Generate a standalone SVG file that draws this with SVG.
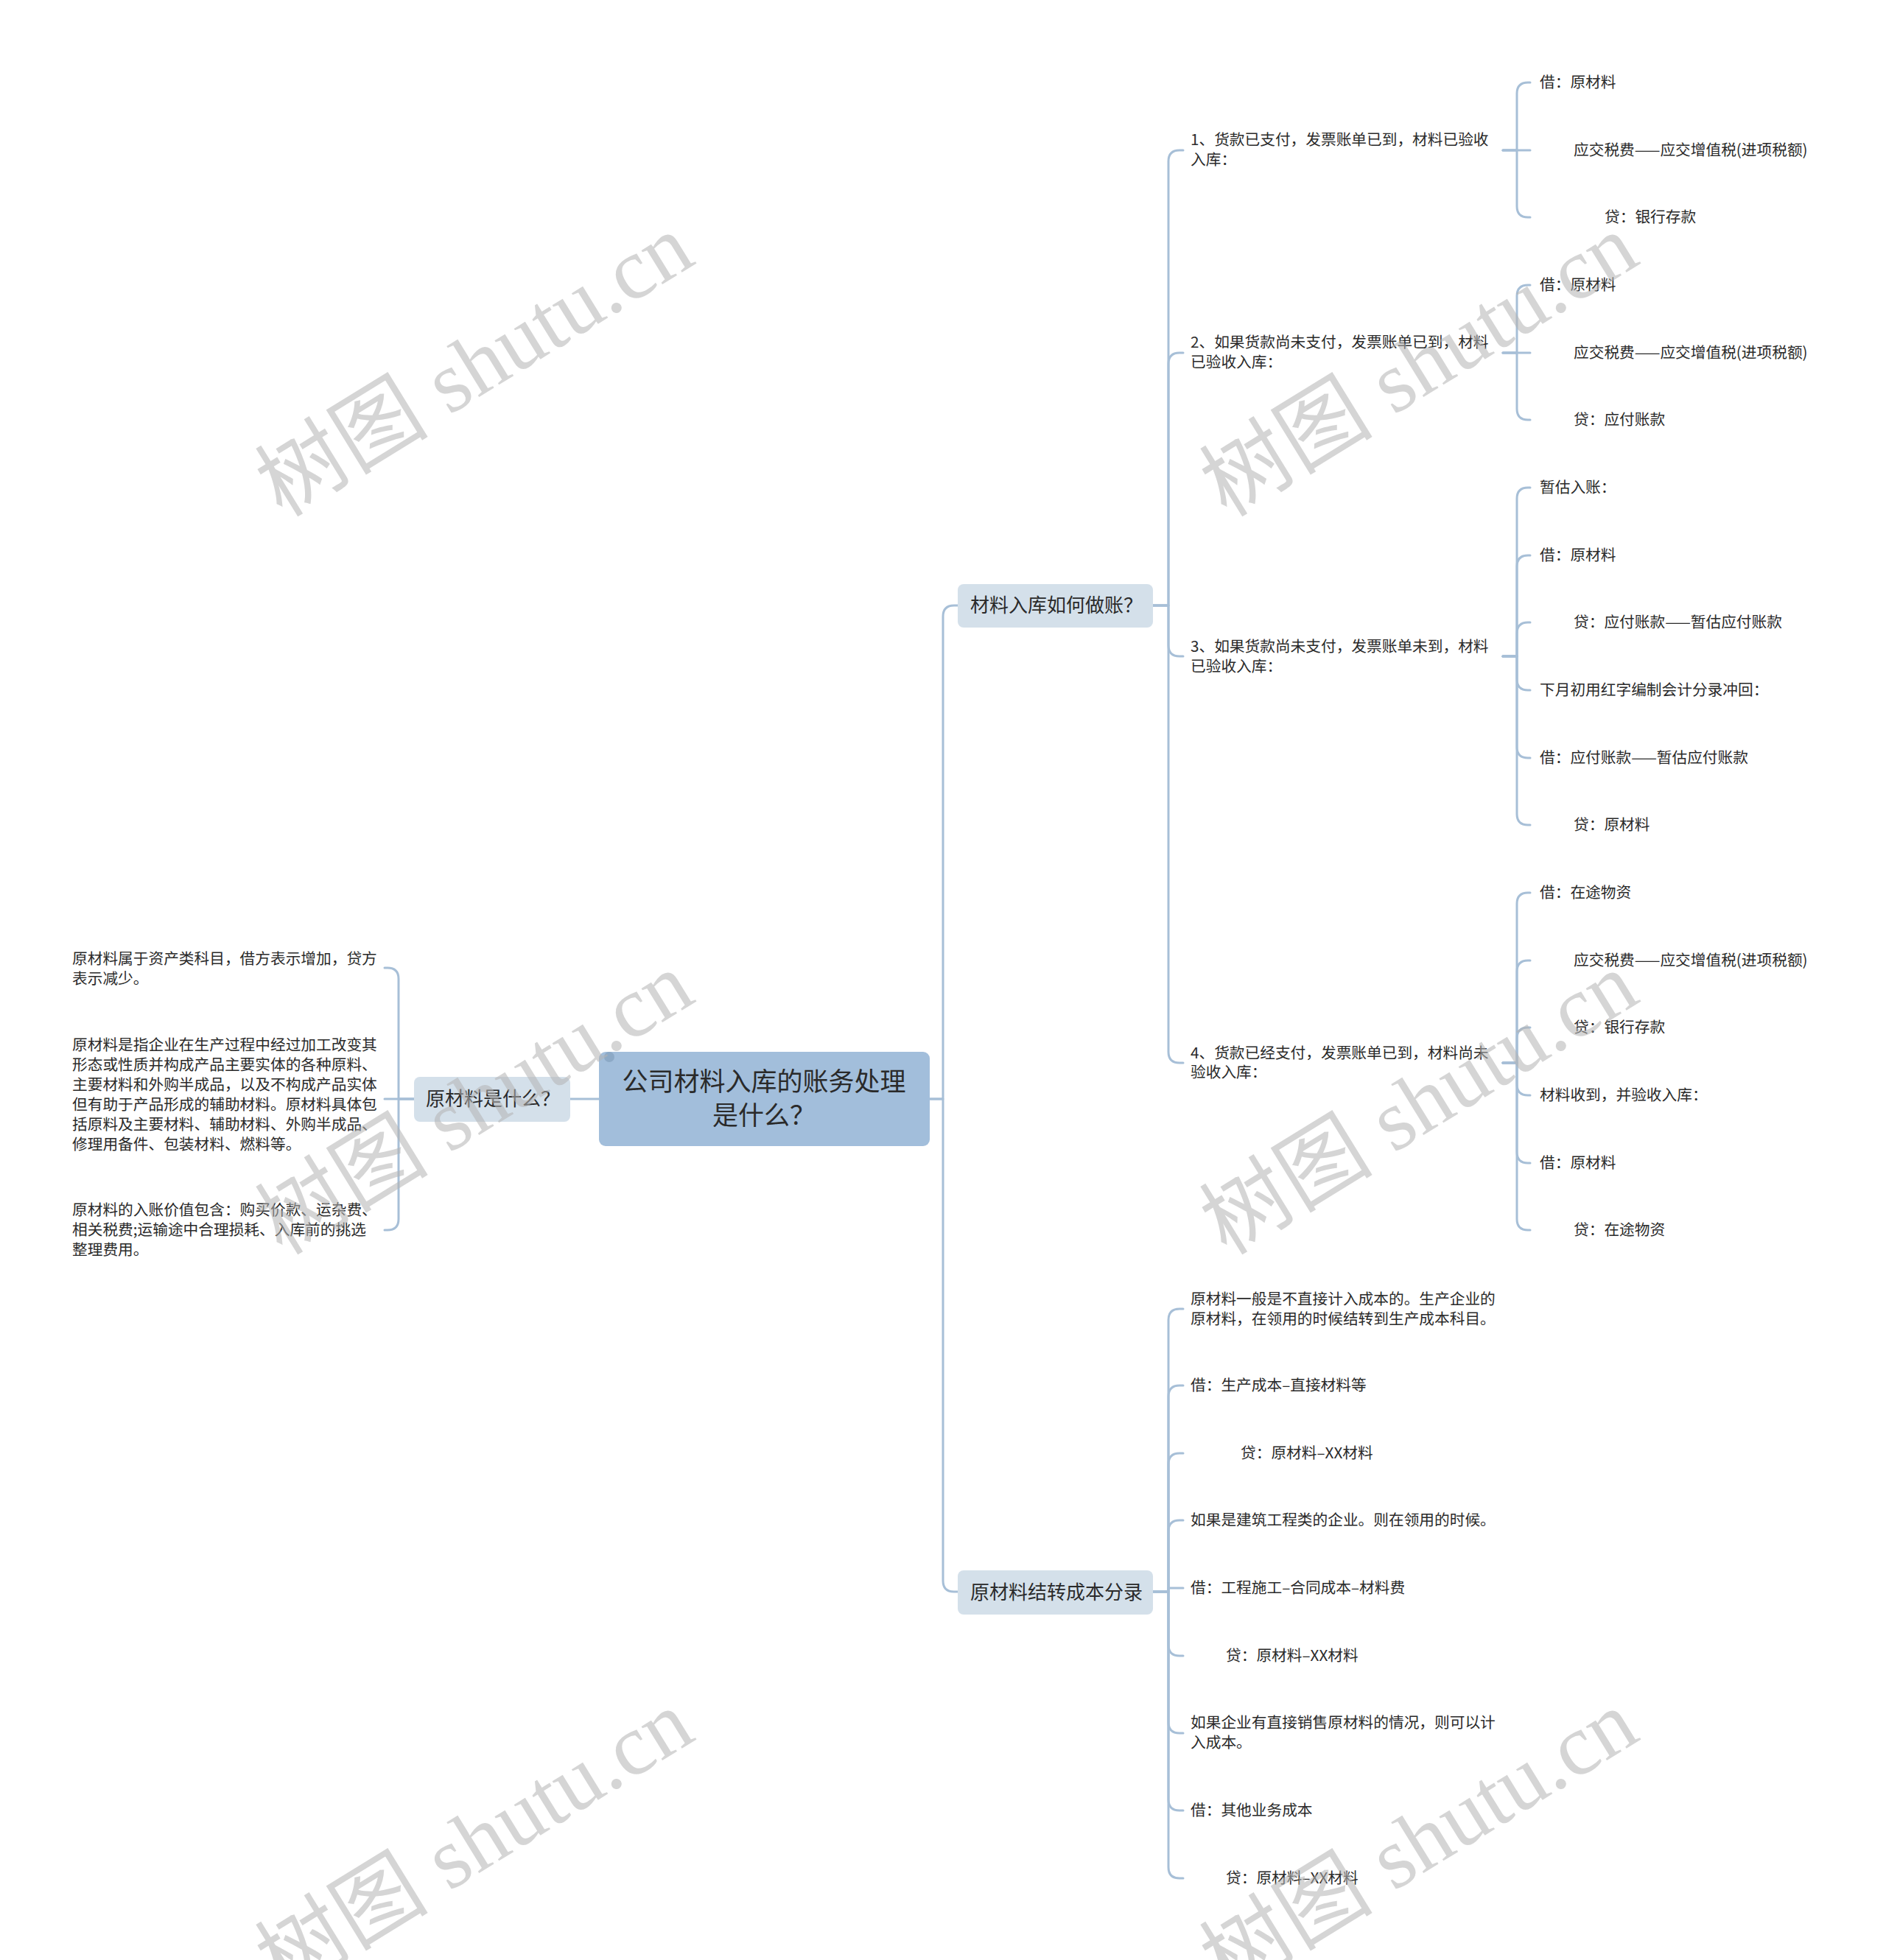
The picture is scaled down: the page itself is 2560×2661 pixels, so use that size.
<svg xmlns="http://www.w3.org/2000/svg" width="2560" height="2661" viewBox="0 0 2560 2661">
<style>
.c{fill:none;stroke:#a7bfd7;stroke-width:3;stroke-linecap:round;stroke-linejoin:round}
.t{font-family:"Noto Sans CJK SC","Liberation Sans",sans-serif;font-size:20.7px;fill:#2a2a2a}
.l1{font-size:26px;text-anchor:middle}
.rt{font-size:35px;text-anchor:middle}
.n1{fill:#d4e0ea}
.wm{font-family:"Liberation Serif","Noto Sans CJK SC",serif;font-size:118px;fill:#b4b4b4;opacity:.55;text-anchor:middle}
</style>
<rect width="2560" height="2661" fill="#ffffff"/>
<g id="connectors">
<path class="c" d="M813 1492 H774"/>
<path class="c" d="M1261 1492 H1280 V837 Q1280 822 1295 822 H1300"/>
<path class="c" d="M1261 1492 H1280 V2146 Q1280 2161 1295 2161 H1300"/>
<path class="c" d="M562 1492 H541 V1329 Q541 1314 526 1314 H522"/>
<path class="c" d="M562 1492 H522"/>
<path class="c" d="M562 1492 H541 V1655 Q541 1670 526 1670 H522"/>
<path class="c" d="M1565 822 H1586 V219 Q1586 204 1601 204 H1606"/>
<path class="c" d="M1565 822 H1586 V494 Q1586 479 1601 479 H1606"/>
<path class="c" d="M1565 822 H1586 V876 Q1586 891 1601 891 H1606"/>
<path class="c" d="M1565 822 H1586 V1428 Q1586 1443 1601 1443 H1606"/>
<path class="c" d="M1565 2161 H1586 V1792 Q1586 1777 1601 1777 H1606"/>
<path class="c" d="M1565 2161 H1586 V1896 Q1586 1881 1601 1881 H1606"/>
<path class="c" d="M1565 2161 H1586 V1988 Q1586 1973 1601 1973 H1606"/>
<path class="c" d="M1565 2161 H1586 V2079 Q1586 2064 1601 2064 H1606"/>
<path class="c" d="M1565 2161 H1586 V2156 H1606"/>
<path class="c" d="M1565 2161 H1586 V2233 Q1586 2248 1601 2248 H1606"/>
<path class="c" d="M1565 2161 H1586 V2338 Q1586 2353 1601 2353 H1606"/>
<path class="c" d="M1565 2161 H1586 V2443 Q1586 2458 1601 2458 H1606"/>
<path class="c" d="M1565 2161 H1586 V2535 Q1586 2550 1601 2550 H1606"/>
<path class="c" d="M2040 204 H2059 V127 Q2059 112 2074 112 H2077"/>
<path class="c" d="M2040 204 H2077"/>
<path class="c" d="M2040 204 H2059 V280 Q2059 295 2074 295 H2077"/>
<path class="c" d="M2040 479 H2059 V402 Q2059 387 2074 387 H2077"/>
<path class="c" d="M2040 479 H2077"/>
<path class="c" d="M2040 479 H2059 V555 Q2059 570 2074 570 H2077"/>
<path class="c" d="M2040 891 H2059 V677 Q2059 662 2074 662 H2077"/>
<path class="c" d="M2040 891 H2059 V769 Q2059 754 2074 754 H2077"/>
<path class="c" d="M2040 891 H2059 V860 Q2059 845 2074 845 H2077"/>
<path class="c" d="M2040 891 H2059 V922 Q2059 937 2074 937 H2077"/>
<path class="c" d="M2040 891 H2059 V1014 Q2059 1029 2074 1029 H2077"/>
<path class="c" d="M2040 891 H2059 V1105 Q2059 1120 2074 1120 H2077"/>
<path class="c" d="M2040 1443 H2059 V1227 Q2059 1212 2074 1212 H2077"/>
<path class="c" d="M2040 1443 H2059 V1319 Q2059 1304 2074 1304 H2077"/>
<path class="c" d="M2040 1443 H2059 V1410 Q2059 1395 2074 1395 H2077"/>
<path class="c" d="M2040 1443 H2059 V1472 Q2059 1487 2074 1487 H2077"/>
<path class="c" d="M2040 1443 H2059 V1564 Q2059 1579 2074 1579 H2077"/>
<path class="c" d="M2040 1443 H2059 V1655 Q2059 1670 2074 1670 H2077"/>
</g>
<g id="root">
<rect x="813" y="1428" width="449" height="128" rx="9" fill="#a2bedb"/>
<circle cx="827" cy="1435" r="7" fill="#8ca9c6"/>
<text class="t rt" x="1037" y="1481">公司材料入库的账务处理</text>
<text class="t rt" x="1037" y="1527">是什么？</text>
</g>
<g id="n-a">
<rect class="n1" x="1300" y="793" width="265" height="59" rx="8"/>
<text class="t l1" x="1434" y="831">材料入库如何做账？</text>
</g>
<g id="n-b">
<rect class="n1" x="1300" y="2132" width="265" height="60" rx="8"/>
<text class="t l1" x="1434" y="2171">原材料结转成本分录</text>
</g>
<g id="n-c">
<rect class="n1" x="562" y="1462" width="212" height="61" rx="8"/>
<text class="t l1" x="669" y="1501">原材料是什么？</text>
</g>
<g id="n-l1"><text class="t" x="98" y="1309">原材料属于资产类科目，借方表示增加，贷方</text><text class="t" x="98" y="1336">表示减少。</text></g>
<g id="n-l2">
<text class="t" x="98" y="1426">原材料是指企业在生产过程中经过加工改变其</text>
<text class="t" x="98" y="1453">形态或性质并构成产品主要实体的各种原料、</text>
<text class="t" x="98" y="1480">主要材料和外购半成品，以及不构成产品实体</text>
<text class="t" x="98" y="1507">但有助于产品形成的辅助材料。原材料具体包</text>
<text class="t" x="98" y="1534">括原料及主要材料、辅助材料、外购半成品、</text>
<text class="t" x="98" y="1561">修理用备件、包装材料、燃料等。</text>
</g>
<g id="n-l3"><text class="t" x="98" y="1650">原材料的入账价值包含：购买价款、运杂费、</text><text class="t" x="98" y="1677">相关税费;运输途中合理损耗、入库前的挑选</text><text class="t" x="98" y="1704">整理费用。</text></g>
<g id="n-a1"><text class="t" x="1616" y="197">1、货款已支付，发票账单已到，材料已验收</text><text class="t" x="1616" y="224">入库：</text></g>
<g id="n-a2"><text class="t" x="1616" y="472">2、如果货款尚未支付，发票账单已到，材料</text><text class="t" x="1616" y="499">已验收入库：</text></g>
<g id="n-a3"><text class="t" x="1616" y="885">3、如果货款尚未支付，发票账单未到，材料</text><text class="t" x="1616" y="912">已验收入库：</text></g>
<g id="n-a4"><text class="t" x="1616" y="1437">4、货款已经支付，发票账单已到，材料尚未</text><text class="t" x="1616" y="1463">验收入库：</text></g>
<g id="n-a1-1"><text class="t" x="2090" y="119">借：原材料</text></g>
<g id="n-a1-2"><text class="t" x="2136" y="211">应交税费——应交增值税(进项税额)</text></g>
<g id="n-a1-3"><text class="t" x="2178" y="302">贷：银行存款</text></g>
<g id="n-a2-1"><text class="t" x="2090" y="394">借：原材料</text></g>
<g id="n-a2-2"><text class="t" x="2136" y="486">应交税费——应交增值税(进项税额)</text></g>
<g id="n-a2-3"><text class="t" x="2136" y="577">贷：应付账款</text></g>
<g id="n-a3-1"><text class="t" x="2090" y="669">暂估入账：</text></g>
<g id="n-a3-2"><text class="t" x="2090" y="761">借：原材料</text></g>
<g id="n-a3-3"><text class="t" x="2136" y="852">贷：应付账款——暂估应付账款</text></g>
<g id="n-a3-4"><text class="t" x="2090" y="944">下月初用红字编制会计分录冲回：</text></g>
<g id="n-a3-5"><text class="t" x="2090" y="1036">借：应付账款——暂估应付账款</text></g>
<g id="n-a3-6"><text class="t" x="2136" y="1127">贷：原材料</text></g>
<g id="n-a4-1"><text class="t" x="2090" y="1219">借：在途物资</text></g>
<g id="n-a4-2"><text class="t" x="2136" y="1311">应交税费——应交增值税(进项税额)</text></g>
<g id="n-a4-3"><text class="t" x="2136" y="1402">贷：银行存款</text></g>
<g id="n-a4-4"><text class="t" x="2090" y="1494">材料收到，并验收入库：</text></g>
<g id="n-a4-5"><text class="t" x="2090" y="1586">借：原材料</text></g>
<g id="n-a4-6"><text class="t" x="2136" y="1677">贷：在途物资</text></g>
<g id="n-b1"><text class="t" x="1616" y="1771">原材料一般是不直接计入成本的。生产企业的</text><text class="t" x="1616" y="1798">原材料，在领用的时候结转到生产成本科目。</text></g>
<g id="n-b2"><text class="t" x="1616" y="1888">借：生产成本–直接材料等</text></g>
<g id="n-b3"><text class="t" x="1684" y="1980">贷：原材料–XX材料</text></g>
<g id="n-b4"><text class="t" x="1616" y="2071">如果是建筑工程类的企业。则在领用的时候。</text></g>
<g id="n-b5"><text class="t" x="1616" y="2163">借：工程施工–合同成本–材料费</text></g>
<g id="n-b6"><text class="t" x="1664" y="2255">贷：原材料–XX材料</text></g>
<g id="n-b7"><text class="t" x="1616" y="2346">如果企业有直接销售原材料的情况，则可以计</text><text class="t" x="1616" y="2373">入成本。</text></g>
<g id="n-b8"><text class="t" x="1616" y="2465">借：其他业务成本</text></g>
<g id="n-b9"><text class="t" x="1664" y="2557">贷：原材料–XX材料</text></g>
<g id="watermark">
<text class="wm" transform="translate(665 530) rotate(-31.6)">树图 shutu.cn</text>
<text class="wm" transform="translate(1947 530) rotate(-31.6)">树图 shutu.cn</text>
<text class="wm" transform="translate(665 1532) rotate(-31.6)">树图 shutu.cn</text>
<text class="wm" transform="translate(1947 1532) rotate(-31.6)">树图 shutu.cn</text>
<text class="wm" transform="translate(665 2534) rotate(-31.6)">树图 shutu.cn</text>
<text class="wm" transform="translate(1947 2534) rotate(-31.6)">树图 shutu.cn</text>
</g>
</svg>
